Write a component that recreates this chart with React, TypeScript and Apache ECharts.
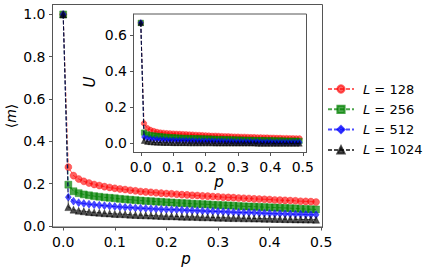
import React, { useEffect, useRef } from "react";
import * as echarts from "echarts";

const pValues = [
  0, 0.01, 0.02, 0.03, 0.04, 0.05, 0.06, 0.07, 0.08, 0.09,
  0.1, 0.11, 0.12, 0.13, 0.14, 0.15, 0.16, 0.17, 0.18, 0.19,
  0.2, 0.21, 0.22, 0.23, 0.24, 0.25, 0.26, 0.27, 0.28, 0.29,
  0.3, 0.31, 0.32, 0.33, 0.34, 0.35, 0.36, 0.37, 0.38, 0.39,
  0.4, 0.41, 0.42, 0.43, 0.44, 0.45, 0.46, 0.47, 0.48, 0.49,
];

const seriesNames = ["128", "256", "512", "1024"];

const mL128 = [
  1.0, 0.278, 0.238, 0.222, 0.211, 0.203, 0.196, 0.191, 0.186, 0.182,
  0.178, 0.175, 0.172, 0.169, 0.166, 0.163, 0.161, 0.159, 0.157, 0.155,
  0.153, 0.152, 0.15, 0.148, 0.147, 0.145, 0.144, 0.142, 0.141, 0.139,
  0.138, 0.136, 0.135, 0.134, 0.132, 0.131, 0.13, 0.128, 0.127, 0.126,
  0.125, 0.123, 0.122, 0.121, 0.12, 0.119, 0.117, 0.116, 0.115, 0.113,
];
const mL256 = [
  1.0, 0.195, 0.164, 0.155, 0.149, 0.145, 0.141, 0.138, 0.135, 0.133,
  0.131, 0.128, 0.126, 0.124, 0.122, 0.12, 0.118, 0.117, 0.115, 0.114,
  0.112, 0.111, 0.109, 0.108, 0.107, 0.105, 0.104, 0.103, 0.102, 0.1,
  0.099, 0.098, 0.097, 0.096, 0.094, 0.093, 0.092, 0.091, 0.09, 0.089,
  0.088, 0.087, 0.086, 0.085, 0.084, 0.083, 0.081, 0.08, 0.079, 0.078,
];
const mL512 = [
  1.0, 0.136, 0.117, 0.11, 0.106, 0.103, 0.1, 0.098, 0.096, 0.094,
  0.092, 0.09, 0.088, 0.087, 0.085, 0.084, 0.083, 0.081, 0.08, 0.079,
  0.078, 0.077, 0.076, 0.075, 0.074, 0.073, 0.072, 0.071, 0.07, 0.069,
  0.068, 0.067, 0.066, 0.065, 0.064, 0.063, 0.063, 0.062, 0.061, 0.06,
  0.059, 0.058, 0.058, 0.057, 0.056, 0.055, 0.055, 0.054, 0.053, 0.053,
];
const mL1024 = [
  1.0, 0.089, 0.077, 0.072, 0.069, 0.066, 0.064, 0.062, 0.06, 0.059,
  0.057, 0.056, 0.055, 0.053, 0.052, 0.051, 0.05, 0.049, 0.048, 0.047,
  0.046, 0.046, 0.045, 0.044, 0.043, 0.043, 0.042, 0.041, 0.041, 0.04,
  0.039, 0.039, 0.038, 0.037, 0.037, 0.036, 0.036, 0.035, 0.035, 0.034,
  0.034, 0.033, 0.033, 0.032, 0.032, 0.031, 0.031, 0.03, 0.03, 0.029,
];

const uL128 = [
  0.667, 0.111, 0.085, 0.075, 0.069, 0.064, 0.061, 0.059, 0.057, 0.056,
  0.055, 0.054, 0.053, 0.052, 0.051, 0.05, 0.049, 0.048, 0.047, 0.046,
  0.045, 0.044, 0.043, 0.043, 0.042, 0.041, 0.04, 0.04, 0.039, 0.038,
  0.038, 0.037, 0.037, 0.036, 0.035, 0.035, 0.034, 0.034, 0.033, 0.033,
  0.032, 0.032, 0.031, 0.031, 0.03, 0.03, 0.029, 0.029, 0.028, 0.028,
];
const uL256 = [
  0.667, 0.06, 0.05, 0.046, 0.044, 0.042, 0.04, 0.038, 0.036, 0.035,
  0.034, 0.033, 0.032, 0.031, 0.03, 0.03, 0.029, 0.029, 0.028, 0.028,
  0.027, 0.027, 0.026, 0.025, 0.024, 0.024, 0.023, 0.023, 0.022, 0.022,
  0.021, 0.021, 0.02, 0.02, 0.019, 0.019, 0.018, 0.018, 0.018, 0.017,
  0.017, 0.017, 0.016, 0.016, 0.016, 0.015, 0.015, 0.015, 0.015, 0.014,
];
const uL512 = [
  0.667, 0.036, 0.028, 0.025, 0.023, 0.022, 0.021, 0.02, 0.019, 0.018,
  0.018, 0.017, 0.017, 0.016, 0.016, 0.015, 0.015, 0.014, 0.014, 0.014,
  0.013, 0.013, 0.013, 0.012, 0.012, 0.012, 0.011, 0.011, 0.011, 0.01,
  0.01, 0.01, 0.01, 0.009, 0.009, 0.009, 0.009, 0.008, 0.008, 0.008,
  0.008, 0.007, 0.007, 0.007, 0.007, 0.007, 0.006, 0.006, 0.006, 0.006,
];
const uL1024 = [
  0.667, 0.015, 0.01, 0.008, 0.006, 0.005, 0.005, 0.004, 0.004, 0.004,
  0.003, 0.003, 0.003, 0.003, 0.003, 0.002, 0.002, 0.002, 0.002, 0.002,
  0.002, 0.002, 0.002, 0.001, 0.001, 0.001, 0.001, 0.001, 0.001, 0.001,
  0.001, 0.001, 0.001, 0.001, 0.001, 0.001, 0.0, 0.0, 0.0, 0.0,
  0.0, 0.0, 0.0, 0.0, 0.0, 0.0, 0.0, 0.0, 0.0, 0.0,
];

const pTicks = [0, 0.1, 0.2, 0.3, 0.4, 0.5];
const mTicks = [0, 0.2, 0.4, 0.6, 0.8, 1.0];
const uTicks = [0, 0.2, 0.4, 0.6];

const FONT = "DejaVu Sans";
const SPINE = "#555555";

const styles = [
  { color: "rgba(255,0,0,0.62)", symbol: "circle", size: 7, isize: 5.5 },
  { color: "rgba(0,128,0,0.7)", symbol: "rect", size: 7, isize: 5.5 },
  { color: "rgba(0,0,255,0.7)", symbol: "diamond", size: [6, 8], isize: [5, 6.5] },
  { color: "rgba(0,0,0,0.7)", symbol: "triangle", size: 7, isize: 5.5 },
];

const mSets = [mL128, mL256, mL512, mL1024];
const uSets = [uL128, uL256, uL512, uL1024];

function axisCommon(ticks: number[]) {
  return {
    type: "value" as const,
    splitLine: { show: false },
    axisLine: { show: true, onZero: false, lineStyle: { color: SPINE, width: 1 } },
    axisTick: {
      show: true,
      inside: false,
      length: 3.5,
      customValues: ticks,
      lineStyle: { color: SPINE, width: 1 },
    },
    axisLabel: {
      customValues: ticks,
      formatter: (v: number) => v.toFixed(1),
      color: "#000",
      fontSize: 14,
      fontFamily: FONT,
    },
  };
}

export default function App() {
  const ref = useRef<HTMLDivElement>(null);
  useEffect(() => {
    if (!ref.current) return;
    const chart = echarts.init(ref.current, undefined, { renderer: "svg" });
    const series: any[] = [];
    mSets.forEach((vals, i) => {
      const s = styles[i];
      series.push({
        name: seriesNames[i],
        type: "line",
        xAxisIndex: 0,
        yAxisIndex: 0,
        data: pValues.map((p, k) => [p, vals[k]]),
        symbol: s.symbol,
        symbolSize: s.size,
        showAllSymbol: true,
        lineStyle: { color: s.color, width: 1, type: [4, 2] },
        itemStyle: { color: s.color, borderColor: s.color, borderWidth: 0.5 },
        z: 2 + i,
      });
    });
    uSets.forEach((vals, i) => {
      const s = styles[i];
      series.push({
        name: seriesNames[i],
        type: "line",
        xAxisIndex: 1,
        yAxisIndex: 1,
        data: pValues.map((p, k) => [p, vals[k]]),
        symbol: s.symbol,
        symbolSize: s.isize,
        showAllSymbol: true,
        lineStyle: { color: s.color, width: 1, type: [4, 2] },
        itemStyle: { color: s.color, borderColor: s.color, borderWidth: 0.5 },
        z: 12 + i,
      });
    });

    chart.setOption({
      animation: false,
      backgroundColor: "#fff",
      grid: [
        {
          left: 52.5,
          top: 4.5,
          width: 270,
          height: 222.5,
          show: true,
          borderColor: SPINE,
          borderWidth: 1,
          backgroundColor: "transparent",
          z: 0,
        },
        {
          left: 133.5,
          top: 14,
          width: 173,
          height: 138.5,
          show: true,
          borderColor: SPINE,
          borderWidth: 1,
          backgroundColor: "#fff",
          z: 10,
        },
      ],
      xAxis: [
        { ...axisCommon(pTicks), gridIndex: 0, min: -0.0207, max: 0.5025, axisLabel: { ...axisCommon(pTicks).axisLabel, margin: 8 } },
        { ...axisCommon(pTicks), gridIndex: 1, min: -0.0225, max: 0.5115, axisLabel: { ...axisCommon(pTicks).axisLabel, margin: 7 }, z: 11 },
      ],
      yAxis: [
        { ...axisCommon(mTicks), gridIndex: 0, min: -0.005, max: 1.047, axisLabel: { ...axisCommon(mTicks).axisLabel, margin: 7 } },
        { ...axisCommon(uTicks), gridIndex: 1, min: -0.05, max: 0.716, axisLabel: { ...axisCommon(uTicks).axisLabel, margin: 6.5 }, z: 11 },
      ],
      legend: {
        data: seriesNames,
        orient: "vertical",
        left: 327,
        top: 82,
        itemWidth: 26,
        itemHeight: 9,
        itemGap: 6.3,
        padding: 0,
        formatter: (name: string) => "{i|L}{t| = " + name + "}",
        textStyle: {
          fontFamily: FONT,
          fontSize: 13,
          color: "#000",
          lineHeight: 14,
          padding: [0, 0, 0, 4],
          rich: {
            i: { fontFamily: FONT, fontSize: 13, fontStyle: "italic", color: "#000", lineHeight: 14 },
            t: { fontFamily: FONT, fontSize: 13, color: "#000", lineHeight: 14 },
          },
        },
      },
      graphic: [
        {
          type: "text",
          x: 11,
          y: 116,
          rotation: Math.PI / 2,
          style: {
            text: "{a|⟨}{b|m}{a|⟩}",
            align: "center",
            verticalAlign: "middle",
            fill: "#000",
            rich: {
              a: { fontFamily: FONT, fontSize: 14, fill: "#000" },
              b: { fontFamily: FONT, fontSize: 14, fontStyle: "italic", fill: "#000" },
            },
          },
        },
        {
          type: "text",
          x: 186,
          y: 259,
          style: {
            text: "p",
            align: "center",
            verticalAlign: "middle",
            fill: "#000",
            font: "italic 15px 'DejaVu Sans'",
          },
        },
        {
          type: "text",
          x: 90,
          y: 82,
          z: 20,
          rotation: Math.PI / 2,
          style: {
            text: "U",
            align: "center",
            verticalAlign: "middle",
            fill: "#000",
            font: "italic 15px 'DejaVu Sans'",
          },
        },
        {
          type: "text",
          x: 219,
          y: 182,
          z: 20,
          style: {
            text: "p",
            align: "center",
            verticalAlign: "middle",
            fill: "#000",
            font: "italic 15px 'DejaVu Sans'",
          },
        },
      ],
      series,
    });
    return () => chart.dispose();
  }, []);
  return (
    <div
      ref={ref}
      style={{ position: "fixed", left: 0, top: 0, width: 436, height: 272, background: "#fff" }}
    />
  );
}
